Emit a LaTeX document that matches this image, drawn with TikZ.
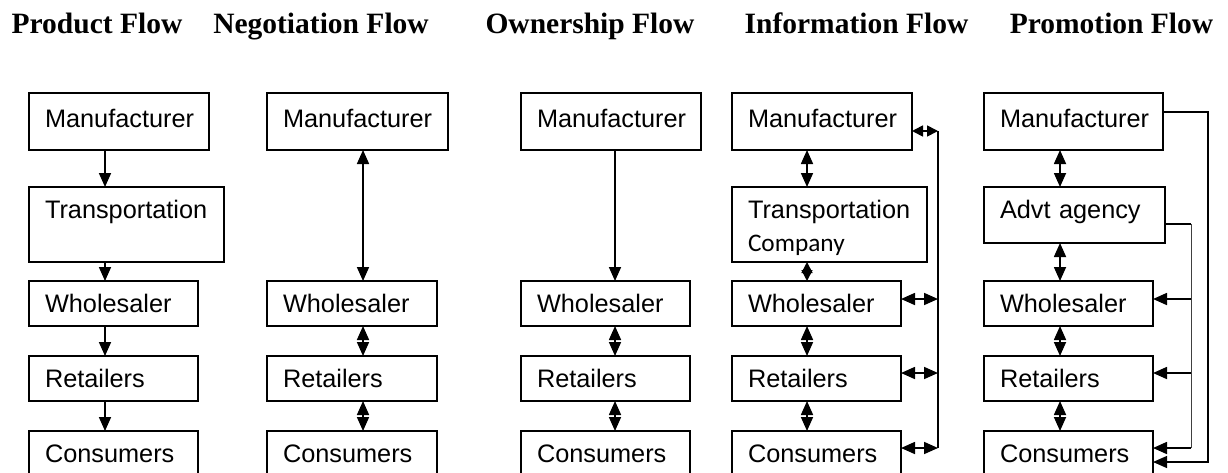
\documentclass[tikz,border=0pt]{standalone}
\usepackage{fontspec}
\setmainfont{Liberation Serif}
\newfontfamily\arial{Liberation Sans}
\newfontfamily\carlito{Carlito}
\usetikzlibrary{arrows.meta}
\begin{document}
\begin{tikzpicture}[x=1pt,y=-1pt,
  >={Triangle[length=14pt,width=12pt]},
  box/.style={draw, line width=1.3pt, inner xsep=16pt, inner ysep=0pt, outer sep=0pt,
    text height=31pt, align=left, anchor=north west,
    font=\arial\fontsize{25.3}{30}\selectfont},
  tall/.style={text width=#1pt, text height=34pt, text depth=23pt},
  low/.style={text width=137pt, text depth=14pt},
  ttl/.style={font=\bfseries\fontsize{29.5}{34}\selectfont, anchor=base, inner sep=0pt},
  arr/.style={line width=1.7pt, ->},
  dbl/.style={line width=1.7pt, <->},
  sdbl/.style={line width=1.7pt, {Triangle[length=11pt,width=11pt]}-{Triangle[length=11pt,width=11pt]}},
  wire/.style={line width=1.3pt},
]
\useasboundingbox (0,0) rectangle (1228,472);
\clip (0,0) rectangle (1228,472);

% titles
\node[ttl] (h1) at (97,33) {Product Flow};
\node[ttl] (h2) at (321,33) {Negotiation Flow};
\node[ttl] (h3) at (590,33) {Ownership Flow};
\node[ttl] (h4) at (856.5,33) {Information Flow};
\node[ttl] (h5) at (1111.5,33) {Promotion Flow};

% column x positions of the vertical arrows
\coordinate (x1) at (105,0);
\coordinate (x2) at (363,0);
\coordinate (x3) at (615,0);
\coordinate (x4) at (807,0);
\coordinate (x5) at (1060,0);

% column 1: product flow
\node[box, tall=148] (m1) at (29,93) {Manufacturer};
\node[box, text width=163pt, text depth=44pt] (t1) at (29,187) {Transportation};
\node[box, low] (w1) at (29,281) {Wholesaler};
\node[box, low] (r1) at (29,356) {Retailers};
\node[box, low] (c1) at (29,431) {Consumers};
\draw[arr] (m1.south -| x1) -- (t1.north -| x1);
\draw[arr] (t1.south -| x1) -- (w1.north -| x1);
\draw[arr] (w1.south -| x1) -- (r1.north -| x1);
\draw[arr] (r1.south -| x1) -- (c1.north -| x1);

% column 2: negotiation flow
\node[box, tall=149] (m2) at (267,93) {Manufacturer};
\node[box, low, text width=138pt] (w2) at (267,281) {Wholesaler};
\node[box, low, text width=138pt] (r2) at (267,356) {Retailers};
\node[box, low, text width=138pt] (c2) at (267,431) {Consumers};
\draw[dbl] (m2.south -| x2) -- (w2.north -| x2);
\draw[dbl] (w2.south -| x2) -- (r2.north -| x2);
\draw[dbl] (r2.south -| x2) -- (c2.north -| x2);

% column 3: ownership flow
\node[box, tall=148] (m3) at (521,93) {Manufacturer};
\node[box, low] (w3) at (521,281) {Wholesaler};
\node[box, low] (r3) at (521,356) {Retailers};
\node[box, low] (c3) at (521,431) {Consumers};
\draw[arr] (m3.south -| x3) -- (w3.north -| x3);
\draw[dbl] (w3.south -| x3) -- (r3.north -| x3);
\draw[dbl] (r3.south -| x3) -- (c3.north -| x3);

% column 4: information flow
\node[box, tall=148] (m4) at (732,93) {Manufacturer};
\node[box, text width=163pt, text depth=44pt] (t4) at (732,187) {Transportation\\[3pt]{\carlito Company}};
\node[box, low] (w4) at (732,281) {Wholesaler};
\node[box, low] (r4) at (732,356) {Retailers};
\node[box, low] (c4) at (732,431) {Consumers};
\draw[dbl] (m4.south -| x4) -- (t4.north -| x4);
\draw[sdbl] (t4.south -| x4) -- (w4.north -| x4);
\draw[dbl] (w4.south -| x4) -- (r4.north -| x4);
\draw[dbl] (r4.south -| x4) -- (c4.north -| x4);
\coordinate (s1) at (938,131);
\coordinate (s2) at (938,299);
\coordinate (s3) at (938,373);
\coordinate (s4) at (938,448);
\draw[wire] (s1) -- (s4);
\draw[sdbl] (m4.east |- s1) -- (s1);
\draw[dbl] (w4.east |- s2) -- (s2);
\draw[dbl] (r4.east |- s3) -- (s3);
\draw[dbl] (c4.east |- s4) -- (s4);

% column 5: promotion flow
\node[box, tall=147] (m5) at (984,93) {Manufacturer};
\node[box, text width=149pt, text depth=25pt] (a5) at (984,187) {Advt agency};
\node[box, low] (w5) at (984,281) {Wholesaler};
\node[box, low] (r5) at (984,356) {Retailers};
\node[box, low] (c5) at (984,431) {Consumers};
\draw[dbl] (m5.south -| x5) -- (a5.north -| x5);
\draw[dbl] (a5.south -| x5) -- (w5.north -| x5);
\draw[dbl] (w5.south -| x5) -- (r5.north -| x5);
\draw[dbl] (r5.south -| x5) -- (c5.north -| x5);
\coordinate (o1) at (1208,112);
\coordinate (o2) at (1208,462);
\draw[wire, ->] (m5.east |- o1) -- (o1) -- (o2) -- (c5.east |- o2);
\coordinate (i1) at (1191,224);
\coordinate (i2) at (1191,299);
\coordinate (i3) at (1191,373);
\coordinate (i4) at (1191,448);
\draw[wire] (a5.east |- i1) -- (i1);
\draw[line width=0.9pt, black!75] (i1) -- (i4);
\draw[arr] (i2) -- (w5.east |- i2);
\draw[arr] (i3) -- (r5.east |- i3);
\draw[arr] (i4) -- (c5.east |- i4);
\end{tikzpicture}
\end{document}
